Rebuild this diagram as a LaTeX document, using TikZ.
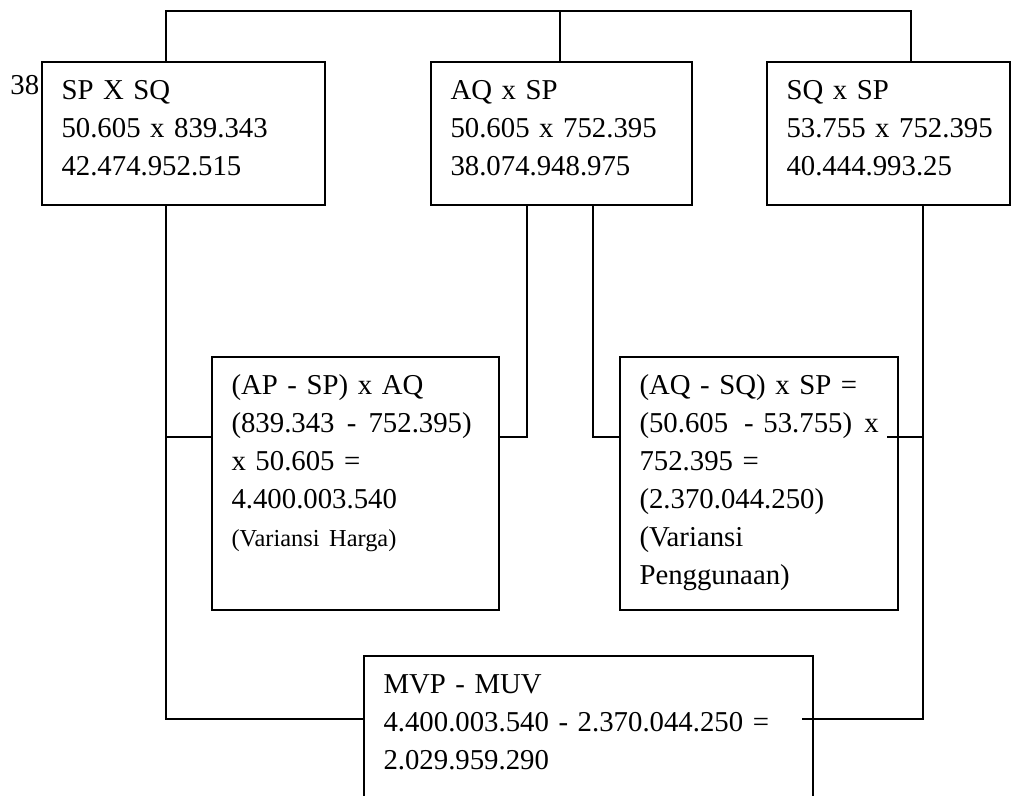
\documentclass[tikz,border=0pt]{standalone}
\usepackage{fontspec}
\setmainfont{Liberation Serif}
\usetikzlibrary{fit}
\begin{document}
\begin{tikzpicture}[x=0.41pt,y=-0.41pt,
  box/.style={draw,rectangle,line width=0.8pt,inner sep=0pt},
  txt/.style={anchor=base west,inner sep=0pt,text width=250pt,
    font=\fontsize{11.8}{15.6}\selectfont},
  wire/.style={line width=0.8pt}]
\useasboundingbox (0,0) rectangle (1017,796);
\clip (0,0) rectangle (1017,796);

% page number
\node[anchor=base west,inner sep=0pt,font=\fontsize{11.8}{15.6}\selectfont] (pagenum) at (10,95) {38};

% top row
\node[box,fit={(42,62)(325,205)}] (sp) {};
\node[box,fit={(431,62)(692,205)}] (aq) {};
\node[box,fit={(767,62)(1010,205)}] (sq) {};
% variance boxes
\node[box,fit={(212,357)(499,610)}] (harga) {};
\node[box,fit={(620,357)(898,610)}] (pg) {};
% result box
\node[box,fit={(364,656)(813,830)}] (mvp) {};

% texts
\node[txt] (sp-t) at ([shift={(20,38)}]sp.north west)
  {SP X SQ\\50.605 x 839.343\\42.474.952.515};
\node[txt] (aq-t) at ([shift={(20,38)}]aq.north west)
  {AQ x SP\\50.605 x 752.395\\38.074.948.975};
\node[txt] (sq-t) at ([shift={(20,38)}]sq.north west)
  {SQ x SP\\53.755 x 752.395\\40.444.993.25};
\node[txt] (harga-t) at ([shift={(20,38)}]harga.north west)
  {(AP - SP) x AQ\\(839.343\hspace{5pt}-\hspace{5pt}752.395)\\x 50.605 =\\4.400.003.540\\
   \fontsize{10}{15.6}\selectfont (Variansi Harga)};
\node[txt] (pg-t) at ([shift={(20,38)}]pg.north west)
  {(AQ - SQ) x SP =\\(50.605\hspace{6.5pt}-\hspace{4pt}53.755)\hspace{5pt}x\\752.395 =\\(2.370.044.250)\\(Variansi\\Penggunaan)};
\node[txt] (mvp-t) at ([shift={(20,38)}]mvp.north west)
  {MVP - MUV\\4.400.003.540 - 2.370.044.250 =\\2.029.959.290};

% junction points
\coordinate (ja) at (166,11);
\coordinate (jb) at (560,11);
\coordinate (jc) at (911,11);
\coordinate (lh) at (166,437);
\coordinate (lo) at (166,719);
\coordinate (ah) at (527,437);
\coordinate (ag) at (593,437);
\coordinate (sh) at (923,437);
\coordinate (so) at (923,719);
\coordinate (pgin) at (887,437);
\coordinate (mvpin) at (802,719);

% top bus
\draw[wire] (ja |- sp.north) -- (ja) -- (jc) -- (jc |- sq.north);
\draw[wire] (jb) -- (jb |- aq.north);
% left bus
\draw[wire] (ja |- sp.south) -- (lo) -- (lo -| mvp.west);
\draw[wire] (lh) -- (lh -| harga.west);
% middle links
\draw[wire] (ah |- aq.south) -- (ah) -- (ah -| harga.east);
\draw[wire] (ag |- aq.south) -- (ag) -- (ag -| pg.west);
% right bus
\draw[wire] (sh |- sq.south) -- (so) -- (mvpin);
\draw[wire] (sh) -- (pgin);
\end{tikzpicture}
\end{document}
